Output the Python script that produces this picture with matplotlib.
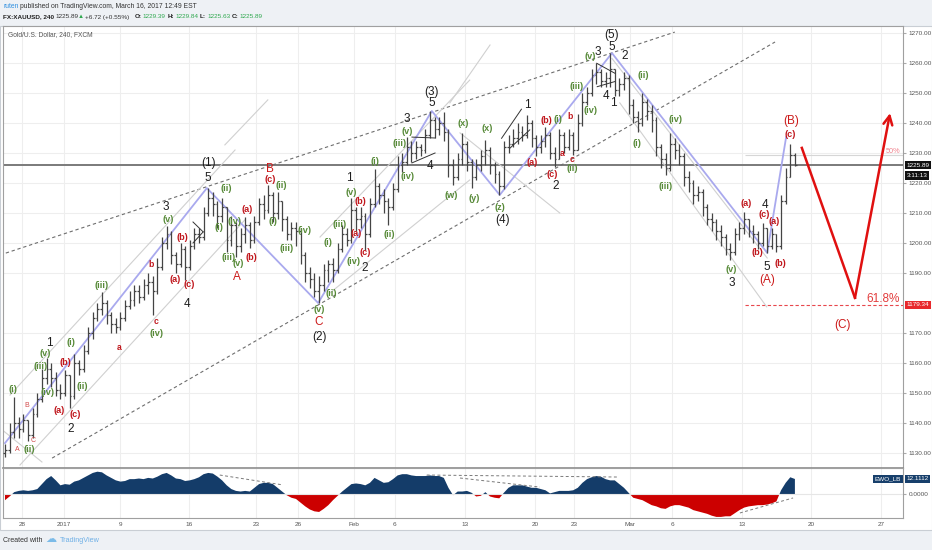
import matplotlib
matplotlib.use('Agg')
import matplotlib.pyplot as plt
import matplotlib.transforms as mtransforms
from matplotlib.patches import Rectangle
import numpy as np

plt.rcParams['font.family'] = ['Liberation Sans', 'DejaVu Sans']

# XAUUSD, 8h bars (Dec 27 2016 - Mar 16 2017)
bar_open0 = 1130.0
bar_close = [1131, 1137, 1140, 1138, 1141, 1136, 1143, 1148, 1155, 1158,
             1155, 1151, 1150, 1156, 1149, 1160, 1158, 1164, 1170, 1175,
             1178, 1180, 1176, 1173, 1172, 1175, 1179, 1181, 1184, 1182,
             1186, 1187, 1184, 1192, 1200, 1203, 1196, 1193, 1198, 1192,
             1199, 1203, 1202, 1210, 1215, 1213, 1209, 1212, 1201, 1206,
             1199, 1203, 1206, 1201, 1207, 1213, 1211, 1216, 1210, 1214,
             1208, 1203, 1205, 1204, 1196, 1190, 1188, 1184, 1186, 1191,
             1193, 1191, 1198, 1203, 1201, 1211, 1208, 1209, 1203, 1213,
             1219, 1216, 1214, 1212, 1218, 1226, 1227, 1232, 1230, 1232,
             1231, 1236, 1241, 1238, 1240, 1237, 1226, 1222, 1228, 1233,
             1227, 1222, 1226, 1229, 1231, 1226, 1223, 1219, 1232, 1233,
             1235, 1237, 1236, 1240, 1235, 1232, 1234, 1236, 1230, 1228,
             1236, 1232, 1236, 1231, 1240, 1247, 1250, 1256, 1257, 1254,
             1255, 1258, 1251, 1253, 1255, 1246, 1242, 1240, 1247, 1244,
             1241, 1232, 1228, 1225, 1233, 1231, 1229, 1222, 1220, 1216,
             1217, 1212, 1208, 1207, 1204, 1202, 1198, 1197, 1203, 1205,
             1208, 1204, 1203, 1200, 1205, 1199, 1203, 1199, 1214, 1222,
             1229.39, 1225.89]
bar_high = [1133, 1140, 1148.7, 1142, 1143, 1141, 1145, 1150, 1158, 1161.6,
            1160, 1157, 1153, 1157.6, 1156, 1163, 1161, 1166, 1172, 1177,
            1180, 1183.7, 1181, 1177, 1175, 1177, 1181, 1184, 1186, 1186,
            1188, 1190, 1189, 1195, 1202, 1205.7, 1204, 1197, 1200, 1199,
            1201, 1205, 1205, 1212, 1218.3, 1217, 1214, 1215, 1212, 1209,
            1207, 1205, 1208.7, 1207, 1209, 1215, 1216, 1219.3, 1217, 1217,
            1214, 1209, 1207, 1207, 1205, 1197, 1192, 1190, 1189, 1193,
            1194.3, 1195, 1200, 1206, 1205, 1215, 1212, 1212, 1210, 1215,
            1224.7, 1220, 1218, 1215, 1220, 1229, 1230, 1235.3, 1234, 1234,
            1233, 1238, 1244, 1242, 1242, 1243.7, 1238, 1228, 1230, 1236.7,
            1234, 1228, 1228, 1231, 1234.3, 1232, 1227, 1224, 1234, 1236,
            1238, 1240, 1239, 1242.7, 1241, 1236, 1236, 1238.7, 1237, 1232,
            1238, 1237, 1238, 1237, 1243, 1250, 1252, 1258, 1260, 1258,
            1257, 1263.3, 1258, 1255, 1257, 1256, 1248, 1244, 1250, 1248,
            1246, 1242, 1233, 1230, 1236.7, 1235, 1233, 1230, 1224, 1221,
            1219, 1218, 1213, 1210, 1208, 1206, 1203, 1200, 1205, 1207,
            1210.3, 1208, 1206, 1204, 1206.7, 1205, 1205, 1203, 1216, 1225,
            1233, 1229.84]
bar_low = [1128.7, 1130, 1135, 1135, 1137, 1134, 1135, 1142, 1147, 1153,
           1152, 1149, 1148, 1149, 1145, 1148, 1156, 1157, 1163, 1168,
           1174, 1176, 1173, 1170, 1170, 1171, 1174, 1178, 1179, 1180,
           1181, 1183, 1176, 1183, 1191, 1198, 1193, 1190, 1192, 1187.7,
           1191, 1198, 1200, 1201, 1209, 1209, 1205, 1207, 1197, 1199,
           1195.3, 1197, 1200, 1198.3, 1200, 1206, 1208, 1210, 1207, 1208,
           1204, 1201, 1201, 1199, 1193, 1187, 1185, 1182, 1180, 1184,
           1187, 1187, 1190, 1197, 1199, 1200, 1204, 1205, 1197.7, 1202,
           1212, 1213, 1210, 1206, 1211, 1217, 1223.7, 1226, 1227, 1228,
           1229, 1230, 1235, 1235, 1236, 1234, 1222, 1219.3, 1221, 1226,
           1224, 1218.3, 1221, 1224, 1226, 1223, 1220, 1216, 1218, 1230,
           1232, 1233, 1234, 1235, 1232, 1229, 1230, 1232, 1228, 1225.3,
           1228, 1230, 1231, 1229.3, 1231, 1239, 1246, 1249, 1253, 1252,
           1252, 1252, 1249, 1249, 1251, 1243, 1240, 1237, 1239, 1241,
           1237, 1229, 1225, 1222.7, 1224, 1228, 1226, 1219, 1217, 1213,
           1214, 1209, 1206, 1204, 1201, 1199, 1196, 1194.3, 1196, 1201,
           1203, 1202, 1200, 1198, 1199, 1196.7, 1198, 1197, 1198, 1213,
           1222, 1225.63]

# Elliott wave oscillator (EWO_LB)
ewo = [-5, -2, 1.5, 2.5, 3, 2.5, 3, 4, 8, 12,
       14.5, 11, 7, 8, 7.5, 10, 11, 13, 15, 17,
       18, 17.5, 15, 13, 11, 10, 10.5, 12, 12, 12.5,
       12, 13, 12.5, 14, 16, 17, 15, 12.5, 12, 10.5,
       11, 12, 13.5, 16, 17, 16.5, 14, 11, 7, 4,
       2.5, 2, 2.5, 2, 5, 8, 9, 9, 8, 5,
       2, -1, -3, -4, -7, -10, -12.5, -14, -14.5, -12,
       -9, -5, -1.5, 2, 5, 8, 8.5, 8, 7, 9,
       13, 11, 9, 9.5, 12, 15, 16, 16, 15, 14.5,
       14.5, 14.5, 15, 14.5, 14.5, 13, 5, -1, 2, 2,
       2.5, 1, -2, -1.5, 1.5, -2, -3, -3.5, 1, 5,
       7, 7, 7, 6, 5, 5, 4, 3, 0.5, 1.5,
       2.5, 2.5, 2.5, 3, 5, 9, 12, 13.5, 14.5, 14,
       12, 11, 11, 8, 5, 1, -3, -4, -5, -7,
       -9, -10, -11.5, -12, -10, -9, -9, -10, -11, -13,
       -14, -15, -16, -17.5, -18.5, -18.5, -18, -18, -15.5, -13,
       -11, -10, -9.5, -9, -9, -8.5, -7.5, -6, 3, 9,
       13.5, 12.1112]

price_ticks = [1130, 1140, 1150, 1160, 1170, 1190, 1200, 1210,
               1220, 1230, 1240, 1250, 1260, 1270]
date_labels = ['28', '2017', '9', '16', '23', '26', 'Feb', '6', '13',
               '20', '23', 'Mar', '6', '13', '20', '27']
date_pos = [3.7, 12.8, 24.9, 39.8, 54.3, 63.4, 75.5, 84.4, 99.6,
            114.7, 123.2, 135.3, 144.4, 159.5, 174.5, 189.6]

last_price = 1225.89
fib_618 = 1179.34
fib_50 = 1229.2
ewo_last = 12.1112

# wave labels: text, bar, price, style
waves = [
    ('(i)', 1.7, 1151, 'g'), ('A', 2.7, 1131.3, 'rs'), ('B', 4.7, 1145.7, 'rs'),
    ('C', 6.1, 1134, 'rs'), ('(ii)', 5.3, 1131, 'g'), ('(iii)', 7.6, 1158.7, 'g'),
    ('(v)', 8.7, 1163, 'g'), ('1', 9.7, 1166.5, 'k'), ('(iv)', 9.2, 1150, 'g'),
    ('(b)', 13.1, 1160, 'r'), ('(a)', 11.7, 1144.3, 'r'), ('(c)', 15.2, 1142.7, 'r'),
    ('2', 14.2, 1138, 'k'), ('(i)', 14.3, 1166.7, 'g'), ('(ii)', 16.8, 1152, 'g'),
    ('(iii)', 20.9, 1185.7, 'g'), ('a', 24.7, 1165, 'rb'), ('b', 31.7, 1192.7, 'rb'),
    ('c', 32.8, 1173.7, 'rb'), ('(iv)', 32.8, 1169.7, 'g'), ('3', 34.8, 1212, 'k'),
    ('(v)', 35.4, 1207.7, 'g'), ('(b)', 38.4, 1201.7, 'r'), ('(a)', 36.8, 1187.7, 'r'),
    ('(c)', 39.8, 1186, 'r'), ('4', 39.5, 1179.7, 'k'), ('(1)', 44, 1226.5, 'k'),
    ('5', 43.8, 1221.5, 'k'), ('(ii)', 48, 1218, 'g'), ('(i)', 46.3, 1205.3, 'g'),
    ('(iv)', 49.6, 1207, 'g'), ('(iii)', 48.3, 1195, 'g'), ('(v)', 50.5, 1193, 'g'),
    ('A', 50.3, 1188.7, 'R'), ('(a)', 52.4, 1211, 'r'), ('(b)', 53.4, 1195, 'r'),
    ('B', 57.4, 1224.5, 'R'), ('(c)', 57.4, 1221, 'r'), ('(ii)', 59.9, 1219, 'g'),
    ('(i)', 57.9, 1207, 'g'), ('(iii)', 61, 1198.3, 'g'), ('(iv)', 64.9, 1204, 'g'),
    ('(v)', 68, 1177.7, 'g'), ('C', 68, 1173.5, 'R'), ('(2)', 68, 1168.5, 'k'),
    ('(ii)', 70.7, 1183.3, 'g'), ('(i)', 70, 1200, 'g'), ('(iii)', 72.5, 1206.3, 'g'),
    ('(iv)', 75.5, 1193.7, 'g'), ('(v)', 75, 1216.7, 'g'), ('1', 74.5, 1221.5, 'k'),
    ('(b)', 77, 1213.7, 'r'), ('(a)', 76, 1203.3, 'r'), ('(c)', 77.9, 1196.7, 'r'),
    ('2', 77.9, 1191.7, 'k'), ('(i)', 80.1, 1227, 'g'), ('(ii)', 83.2, 1202.7, 'g'),
    ('(iii)', 85.5, 1233.3, 'g'), ('(iv)', 87.1, 1222.3, 'g'), ('(v)', 87.1, 1237.3, 'g'),
    ('3', 87, 1241.3, 'k'), ('4', 92, 1225.7, 'k'), ('(3)', 92.4, 1250.3, 'k'),
    ('5', 92.4, 1246.7, 'k'), ('(w)', 96.5, 1215.7, 'g'), ('(x)', 99.1, 1239.7, 'g'),
    ('(y)', 101.6, 1214.7, 'g'), ('(x)', 104.3, 1238, 'g'), ('(z)', 107.1, 1211.7, 'g'),
    ('(4)', 107.7, 1207.5, 'k'), ('1', 113, 1246, 'k'), ('(a)', 114.2, 1226.7, 'r'),
    ('(b)', 117.2, 1240.7, 'r'), ('(c)', 118.5, 1222.7, 'r'), ('2', 119.3, 1219, 'k'),
    ('(i)', 119.8, 1241, 'g'), ('a', 120.6, 1229.7, 'rb'), ('b', 122.3, 1242, 'rb'),
    ('c', 122.8, 1227.7, 'rb'), ('(ii)', 122.8, 1224.7, 'g'), ('(iii)', 123.7, 1252.3, 'g'),
    ('(iv)', 126.8, 1244, 'g'), ('(v)', 126.6, 1262, 'g'), ('3', 128.3, 1263.5, 'k'),
    ('(5)', 131.3, 1269.3, 'k'), ('5', 131.3, 1265.3, 'k'), ('2', 134.2, 1262.3, 'k'),
    ('4', 130, 1249, 'k'), ('1', 131.8, 1246.7, 'k'), ('(ii)', 138.2, 1255.7, 'g'),
    ('(i)', 136.9, 1233.3, 'g'), ('(iii)', 142.9, 1218.7, 'g'), ('(iv)', 145.2, 1241, 'g'),
    ('(v)', 157.3, 1191, 'g'), ('3', 157.4, 1186.8, 'k'), ('(a)', 160.4, 1213, 'r'),
    ('4', 164.5, 1212.8, 'k'), ('(c)', 164.3, 1209.5, 'r'), ('(a)', 166.5, 1207.3, 'r'),
    ('(b)', 162.8, 1196.7, 'r'), ('5', 164.9, 1192, 'k'), ('(A)', 164.9, 1187.8, 'R'),
    ('(b)', 167.9, 1193.3, 'r'), ('(c)', 169.9, 1236, 'r'), ('(B)', 170.1, 1240.5, 'R'),
    ('(C)', 181.4, 1172.7, 'R'),
]
styles = {
    'k': dict(color='#1e1e1e', size=8.5),
    'g': dict(color='#578a38', size=6.6, weight='bold'),
    'r': dict(color='#c0161c', size=6.6, weight='bold'),
    'rb': dict(color='#c0161c', size=6.2, weight='bold'),
    'rs': dict(color='#d24a4a', size=5.0),
    'R': dict(color='#cc1a1a', size=8.5),
}

# drawing-tool lines (bar, price pairs)
wave_x = [0, 43.7, 67.8, 92.4, 107.1, 131.4, 165, 169.1]
wave_y = [1133.3, 1218.3, 1180, 1244, 1216, 1263.3, 1196.7, 1235.3]
dashed_lines = [((-1.08, 145), (1196, 1270.3)), ((10.2, 166.7), (1128.3, 1267))]
channel_lines = [((3.25, 52), (1126, 1207.8)), ((1.08, 49.8), (1149.3, 1231)),
                 ((-1.08, 8), (1138.3, 1127)), ((47.6, 56.9), (1232.7, 1247.7)),
                 ((68.2, 100.6), (1202, 1254.3)), ((70.3, 100.6), (1183.3, 1221)),
                 ((98.5, 120.1), (1236.7, 1210)), ((96.3, 105), (1246.7, 1266)),
                 ((133.1, 164.9), (1246.7, 1178.7)), ((131.4, 165), (1261.5, 1195))]
triangles = [((40.7, 42.9), (1207, 1203.7)), ((40.7, 42.9), (1200, 1203.7)),
             ((88.1, 93.1), (1235.3, 1235)), ((88.1, 93.1), (1226.7, 1230)),
             ((107.5, 111.8), (1234.9, 1244.6)), ((109.3, 113.6), (1231.6, 1237.7)),
             ((128.1, 132.0), (1259.9, 1256.6)), ((128.2, 132.0), (1252.1, 1253.8))]
ewo_trend = [((46.5, 60.2), (15.3, 7.3)), ((91.3, 132.5), (15.3, 13.7)),
             ((98.5, 115.8), (12.9, 5.6)), ((159.1, 170.6), (-15.3, -3.2))]
arrow_x = [172.5, 184, 191.6]
arrow_y = [1231.7, 1181.7, 1243.3]

W, H = 932, 550
fig = plt.figure(figsize=(W / 100, H / 100), dpi=100, facecolor='#eef1f5')


def frac(x0, y0, x1, y1):
    return [x0 / W, 1 - y1 / H, (x1 - x0) / W, (y1 - y0) / H]


fig.patches.append(Rectangle((0, 20 / H), 1, 504 / H, transform=fig.transFigure,
                             facecolor='white', edgecolor='#c9ced4', lw=0.8, zorder=-5))

ax = fig.add_axes(frac(3, 26, 903, 468))
ax2 = fig.add_axes(frac(3, 468, 903, 518), sharex=ax)
for a in (ax, ax2):
    a.set_facecolor('white')
    for s in a.spines.values():
        s.set_color('#a0a0a0')
        s.set_linewidth(0.8)
ax.spines['bottom'].set_color('#8c8c8c')
ax.spines['bottom'].set_linewidth(1.2)

ax.set_xlim(-0.43, 194.4)
ax.set_ylim(1125.0, 1272.33)
ax2.set_ylim(-19.37, 20.98)

# grid
ax.set_xticks(date_pos)
ax.set_yticks(price_ticks)
ax.grid(color='#eeeeee', lw=0.8)
ax.set_axisbelow(True)
ax.tick_params(axis='x', length=0, labelbottom=False)
ax.yaxis.tick_right()
ax.tick_params(axis='y', length=2, color='#aaaaaa', labelsize=4.6,
               labelcolor='#555555', pad=2)
ax.set_yticklabels(['%.2f' % p for p in price_ticks])

ax2.grid(axis='x', color='#eeeeee', lw=0.8)
ax2.set_axisbelow(True)
ax2.set_xticks(date_pos)
ax2.set_xticklabels(date_labels)
ax2.tick_params(axis='x', length=0, labelsize=4.6, labelcolor='#555555', pad=3)
ax2.yaxis.tick_right()
ax2.set_yticks([0])
ax2.set_yticklabels(['0.0000'])
ax2.tick_params(axis='y', length=2, color='#aaaaaa', labelsize=4.6,
                labelcolor='#555555', pad=2)

# OHLC bars
idx = np.arange(len(bar_close))
c = np.array(bar_close, dtype=float)
o = np.r_[bar_open0, c[:-1]]
bar_col = '#444444'
ax.vlines(idx, bar_low, bar_high, color=bar_col, lw=0.9, zorder=3)
ax.hlines(o, idx - 0.38, idx, color=bar_col, lw=0.9, zorder=3)
ax.hlines(c, idx, idx + 0.38, color=bar_col, lw=0.9, zorder=3)

# price line and fib levels
ax.axhline(last_price, color='#7a7a7a', lw=1.4, zorder=2)
ax.hlines(fib_50, 160.2, 194.4, colors='#d6d6d6', lw=0.8, zorder=2)
ax.hlines(fib_618, 160.2, 194.4, colors='#e8474c', lw=0.8,
          linestyles=(0, (3, 2)), zorder=2)
ax.text(193.7, 1181.2, '61.8%', ha='right', va='center', color='#e23c3c', size=8.5)
ax.text(193.9, 1230.6, '50%', ha='right', va='center', color='#f0808c', size=5.3)

# drawing tools
for xs, ys in dashed_lines:
    ax.plot(xs, ys, color='#6e6e6e', lw=0.8, ls=(0, (3, 2.5)), zorder=2)
for xs, ys in channel_lines:
    ax.plot(xs, ys, color='#d0d0d0', lw=0.8, zorder=2)
for xs, ys in triangles:
    ax.plot(xs, ys, color='#333333', lw=0.7, zorder=4)
ax.plot(wave_x, wave_y, color='#a9a9ee', lw=1.3, zorder=2.5)

ax.plot(arrow_x[:2], arrow_y[:2], color='#e01010', lw=1.8, zorder=5)
ax.annotate('', xy=(arrow_x[2], arrow_y[2]), xytext=(arrow_x[1], arrow_y[1]),
            arrowprops=dict(arrowstyle='->', color='#e01010', lw=1.8,
                            mutation_scale=16, shrinkA=0, shrinkB=0), zorder=5)

for txt, xi, pi, st in waves:
    ax.text(xi, pi, txt, ha='center', va='center', zorder=6, **styles[st])

# right-axis value boxes
tr = mtransforms.blended_transform_factory(ax.transAxes, ax.transData)
box = dict(boxstyle='square,pad=0.25', lw=0)
ax.text(1.004, last_price, '%.2f' % last_price, transform=tr, size=4.6, color='white',
        va='center', ha='left', bbox=dict(box, fc='#111111'), clip_on=False)
ax.text(1.004, last_price - 3.4, '3:11:13', transform=tr, size=4.6, color='white',
        va='center', ha='left', bbox=dict(box, fc='#111111'), clip_on=False)
ax.text(1.004, fib_618, '%.2f' % fib_618, transform=tr, size=4.6, color='white',
        va='center', ha='left', bbox=dict(box, fc='#e8282c'), clip_on=False)

# EWO pane
e = np.array(ewo, dtype=float)
ax2.axhline(0, color='#e6e6e6', lw=0.8)
ax2.fill_between(idx, 0, e, where=e >= 0, interpolate=True, color='#143c69', lw=0)
ax2.fill_between(idx, 0, e, where=e <= 0, interpolate=True, color='#cc0000', lw=0)
for xs, ys in ewo_trend:
    ax2.plot(xs, ys, color='#7a7a7a', lw=0.7, ls=(0, (3, 2.5)))
tr2 = mtransforms.blended_transform_factory(ax2.transAxes, ax2.transData)
ax2.text(0.998, ewo_last, 'EWO_LB', transform=tr2, size=4.6, color='white',
         va='center', ha='right', bbox=dict(box, fc='#173f6b'), clip_on=False)
ax2.text(1.004, ewo_last, '%.4f' % ewo_last, transform=tr2, size=4.6, color='white',
         va='center', ha='left', bbox=dict(box, fc='#173f6b'), clip_on=False)

# header
def ftext(px, py, s, **kw):
    fig.text(px / W, 1 - py / H, s, va='center', ha='left', **kw)


ftext(3, 7, 'ruten', size=4.9, color='#2e8fe0')
ftext(19.5, 7, 'published on TradingView.com, March 16, 2017 12:49 EST',
      size=4.9, color='#333333')
green = '#2fa84f'
ftext(3, 17, 'FX:XAUUSD, 240', size=4.6, color='#222222', weight='bold')
ftext(55, 17, '1225.89', size=4.6, color='#333333')
ftext(78, 17, '\u25B2', size=4.4, color=green)
ftext(85, 17, '+6.72 (+0.55%)', size=4.6, color='#333333')
for px, lab, val in [(135, 'O:', '1229.39'), (168, 'H:', '1229.84'),
                     (200, 'L:', '1225.63'), (232, 'C:', '1225.89')]:
    ftext(px, 17, lab, size=4.6, color='#222222', weight='bold')
    ftext(px + 7, 17, val, size=4.6, color=green)
ftext(8, 35, 'Gold/U.S. Dollar, 240, FXCM', size=4.8, color='#555555')

# footer
ftext(3, 540, 'Created with', size=5.0, color='#333333')
ftext(45, 539, '\u2601', size=8, color='#7bbbe8', family='DejaVu Sans')
ftext(60, 540, 'TradingView', size=5.2, color='#6fb0e6')

fig.savefig('out.png', dpi=100, facecolor=fig.get_facecolor())
